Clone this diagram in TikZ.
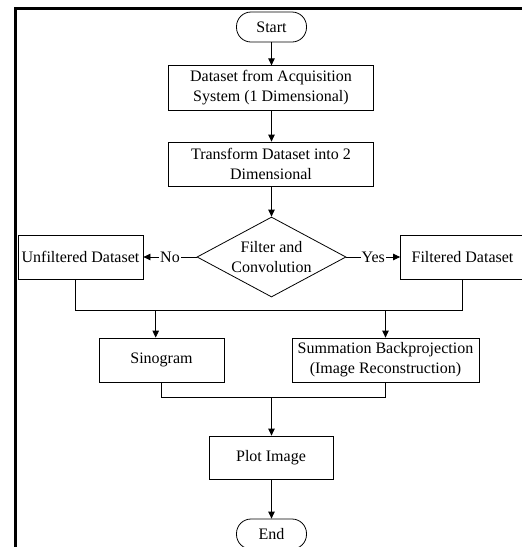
\documentclass[tikz,border=0pt]{standalone}
\usepackage{fontspec}
\setmainfont{Liberation Serif}
\usetikzlibrary{arrows.meta,shapes.geometric}
\tikzset{
  box/.style={draw=black, line width=0.8pt, rectangle, inner sep=0pt, align=center},
  term/.style={draw=black, line width=0.8pt, rectangle, rounded corners=14.5pt, inner sep=0pt, minimum width=70pt, minimum height=30pt},
  dec/.style={draw=black, line width=0.8pt, diamond, inner sep=0pt, minimum width=149pt, minimum height=80pt},
  arr/.style={line width=0.8pt, -{Triangle[length=7pt,width=6.5pt]}},
  ln/.style={line width=0.8pt},
  lbl/.style={fill=white, inner sep=1pt}
}
\begin{document}
\begin{tikzpicture}[x=1pt, y=-1pt, font=\fontsize{16}{20}\selectfont]
\useasboundingbox (0,0) rectangle (522,547);
% frame
\draw[line width=3pt] (15.5,560) -- (15.5,8.5) -- (530,8.5);
% nodes
\node[term] (start) at (271.5,27) {Start};
\node[box, minimum width=205pt, minimum height=44.5pt] (b1) at (271,88) {Dataset from Acquisition\\System (1 Dimensional)};
\node[box, minimum width=205pt, minimum height=44pt] (b2) at (271,164) {Transform Dataset into 2\\Dimensional};
\node[dec] (dia) at (271.5,257) {};
\node[align=center, inner sep=0pt] (diatext) at (dia.center) {Filter and\\Convolution};
\node[box, minimum width=125pt, minimum height=44pt] (unf) at (80.5,257) {Unfiltered Dataset};
\node[box, minimum width=124pt, minimum height=44pt] (fil) at (462.5,257) {Filtered Dataset};
\node[box, minimum width=125pt, minimum height=44pt] (sin) at (161.5,360) {Sinogram};
\node[box, minimum width=187pt, minimum height=44pt] (sum) at (385.5,360) {Summation Backprojection\\(Image Reconstruction)};
\node[box, minimum width=124pt, minimum height=43pt] (plot) at (271,457.5) {Plot Image};
\node[term] (end) at (271.5,534) {End};
% junction coordinates
\coordinate (j1) at (75,310);
\coordinate (j2) at (462.5,310);
\coordinate (s1) at (155.7,310);
\coordinate (j3) at (271.5,397);
% connectors
\draw[arr] (start.south) -- (start.south |- b1.north);
\draw[arr] (b1.south -| start.south) -- (start.south |- b2.north);
\draw[arr] (b2.south -| dia.north) -- (dia.north);
\draw[arr] (dia.west) -- node[lbl]{No} (unf.east);
\draw[arr] (dia.east) -- node[lbl]{Yes} (fil.east -| fil.west);
\draw[ln] (unf.south -| j1) -- (j1) -- (j2) -- (fil.south -| j2);
\draw[arr] (s1) -- (s1 |- sin.north);
\draw[arr] (sum.north |- j1) -- (sum.north);
\draw[ln] (sin.south) -- (sin.south |- j3) -- (sum.south |- j3) -- (sum.south);
\draw[arr] (j3) -- (j3 |- plot.north);
\draw[arr] (plot.south -| end.north) -- (end.north);
\end{tikzpicture}
\end{document}
